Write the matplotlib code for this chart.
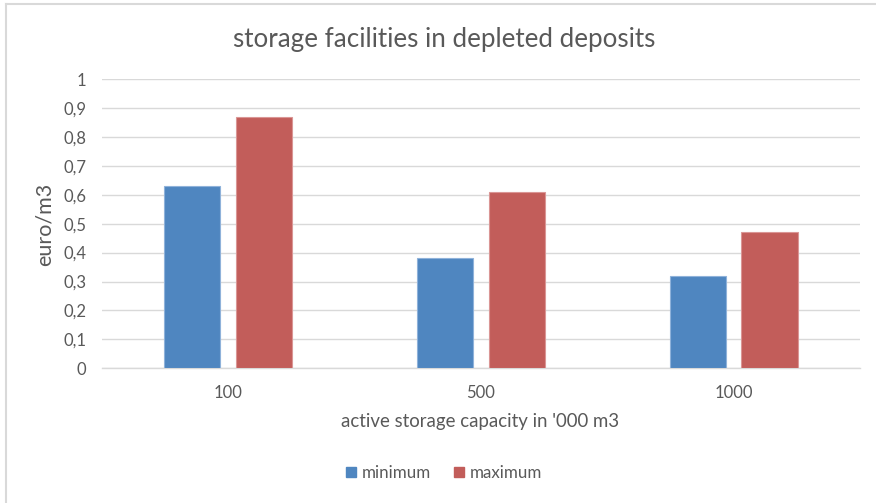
import matplotlib
matplotlib.use("Agg")
import matplotlib.pyplot as plt
import numpy as np
from matplotlib.lines import Line2D

plt.rcParams['font.family'] = ['Lato', 'DejaVu Sans']

categories = ["100", "500", "1000"]
minimum = [0.63, 0.38, 0.32]
maximum = [0.87, 0.61, 0.47]
yticks = [0, 0.1, 0.2, 0.3, 0.4, 0.5, 0.6, 0.7, 0.8, 0.9, 1.0]
ytick_labels = ["0", "0,1", "0,2", "0,3", "0,4", "0,5", "0,6", "0,7", "0,8", "0,9", "1"]

W, H = 876, 503
fig = plt.figure(figsize=(W / 100, H / 100), dpi=100)
ax = fig.add_axes([101.5 / W, 1 - 368.3 / H, (860 - 101.5) / W, (368.3 - 79) / H])

text_color = "#595959"
grid_color = "#D9D9D9"
blue = "#4F86C0"
red = "#C25D5A"

x = np.arange(len(categories))
bw = 0.222
off = 0.142
ax.bar(x - off, minimum, bw, color=blue, edgecolor="#8FB2DA", linewidth=0.8, zorder=3)
ax.bar(x + off, maximum, bw, color=red, edgecolor="#DA9695", linewidth=0.8, zorder=3)

ax.set_xlim(-0.5, len(categories) - 0.5)
ax.set_ylim(0, 1)
ax.set_yticks(yticks)
ax.set_yticklabels(ytick_labels)
ax.set_xticks(x)
ax.set_xticklabels(categories)
ax.tick_params(axis="y", length=0, pad=11, labelsize=12, labelcolor=text_color)
ax.tick_params(axis="x", length=0, pad=12, labelsize=12, labelcolor=text_color)
ax.grid(axis="y", color=grid_color, linewidth=1, zorder=0)
for s in ["top", "right", "left"]:
    ax.spines[s].set_visible(False)
ax.spines["bottom"].set_color(grid_color)
ax.spines["bottom"].set_linewidth(1)

fig.text(444 / W, 1 - 40 / H, "storage facilities in depleted deposits", ha="center", va="center",
         fontsize=18.7, color=text_color)
fig.text(480 / W, 1 - 422 / H, "active storage capacity in '000 m3", ha="center", va="center",
         fontsize=13.4, color=text_color)
fig.text(45 / W, 1 - 224 / H, "euro/m3", ha="center", va="center", rotation=90,
         fontsize=15.5, color=text_color)

handles = [plt.Rectangle((0, 0), 1, 1, color=blue), plt.Rectangle((0, 0), 1, 1, color=red)]
fig.legend(handles, ["minimum", "maximum"], loc="center", bbox_to_anchor=(444 / W, 1 - 473 / H),
           ncol=2, frameon=False, fontsize=12.2, labelcolor=text_color, handlelength=0.6,
           handleheight=0.6, handletextpad=0.3, columnspacing=1.4)

# chart border (left and top visible)
fig.add_artist(Line2D([5.5 / W, 5.5 / W], [0, 1 - 4 / H], color="#D9D9D9", linewidth=1.5))
fig.add_artist(Line2D([5.5 / W, 1], [1 - 4 / H, 1 - 4 / H], color="#D9D9D9", linewidth=1.5))

fig.savefig("out.png", dpi=100)
